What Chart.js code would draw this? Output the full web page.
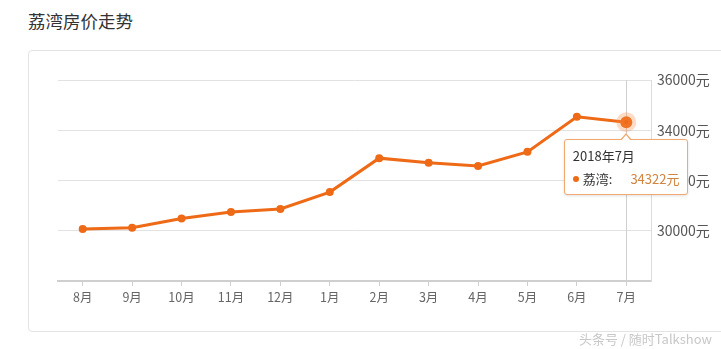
<!DOCTYPE html>
<html>
<head>
<meta charset="utf-8">
<script src="https://cdn.jsdelivr.net/npm/chart.js@4.4.1/dist/chart.umd.min.js"></script>
<style>
body{margin:0;background:#fff;font-family:"Noto Sans CJK SC","Noto Sans",sans-serif;}
#wrap{position:relative;width:721px;height:349px;overflow:hidden;}
#title{position:absolute;left:28px;top:8px;font-size:17.5px;color:#333;}
#box{position:absolute;left:28px;top:50px;width:720px;height:280px;border:1px solid #e4e4e4;border-radius:4px;}
#c{position:absolute;left:0;top:0;}
#tip{position:absolute;display:none;background:#fff;border:1px solid #f2a86e;border-radius:3px;
  box-shadow:0 1px 3px rgba(0,0,0,0.12);padding:6px 8px 6px 8px;font-size:13px;color:#333;white-space:nowrap;}
#tip:before{content:"";position:absolute;left:50%;top:-7px;margin-left:-6px;border-left:6px solid transparent;
  border-right:6px solid transparent;border-bottom:7px solid #f2a86e;}
#tip:after{content:"";position:absolute;left:50%;top:-5px;margin-left:-5px;border-left:5px solid transparent;
  border-right:5px solid transparent;border-bottom:6px solid #fff;}
#tip .t{margin-bottom:4px;}
#tip .dot{display:inline-block;width:6px;height:6px;border-radius:3px;background:#ee6a17;margin-right:4px;vertical-align:2px;}
#tip .v{color:#d2833f;margin-left:18px;}
#mark{position:absolute;right:9px;bottom:1px;font-size:13px;color:#c8c8c8;}
</style>
</head>
<body>
<div id="wrap">
  <div id="title">荔湾房价走势</div>
  <div id="box"></div>
  <canvas id="c" width="721" height="349"></canvas>
  <div id="tip"></div>
  <div id="mark">头条号 / 随时Talkshow</div>
</div>
<script>
// 月份 + 年份（tooltip 用）
var months = ['8月','9月','10月','11月','12月','1月','2月','3月','4月','5月','6月','7月'];
var years  = ['2017','2017','2017','2017','2017','2018','2018','2018','2018','2018','2018','2018'];
var prices = [30070, 30120, 30490, 30745, 30865, 31540, 32890, 32710, 32580, 33140, 34540, 34322];
var seriesName = '荔湾';
var yTicks = [28000, 30000, 32000, 34000, 36000];

var orange = '#ee6a17';

// 竖线（hover 时）
var crossLine = {
  id: 'crossLine',
  beforeDatasetsDraw: function(chart) {
    var act = chart.getActiveElements();
    if (!act.length) return;
    var x = act[0].element.x;
    var ctx = chart.ctx, a = chart.chartArea;
    ctx.save();
    ctx.strokeStyle = '#d0d0d0';
    ctx.lineWidth = 1;
    ctx.beginPath();
    ctx.moveTo(Math.round(x) + 0.5, a.top);
    ctx.lineTo(Math.round(x) + 0.5, a.bottom);
    ctx.stroke();
    ctx.restore();
  }
};

function htmlTip(context) {
  var tip = document.getElementById('tip');
  var t = context.tooltip;
  if (t.opacity === 0 || !t.dataPoints) { tip.style.display = 'none'; return; }
  var p = t.dataPoints[0];
  tip.innerHTML = '<div class="t">' + years[p.dataIndex] + '年' + months[p.dataIndex] + '</div>' +
    '<div><span class="dot"></span>' + seriesName + ':<span class="v">' + prices[p.dataIndex] + '元</span></div>';
  tip.style.display = 'block';
  tip.style.left = (t.caretX - tip.offsetWidth / 2) + 'px';
  tip.style.top = (t.caretY + 17) + 'px';
}

var chart = new Chart(document.getElementById('c'), {
  type: 'line',
  data: {
    labels: months,
    datasets: [{
      label: seriesName,
      data: prices,
      borderColor: orange,
      backgroundColor: orange,
      borderWidth: 3,
      pointRadius: 4,
      pointBorderWidth: 0,
      pointBackgroundColor: orange,
      pointHoverRadius: 6,
      pointHoverBorderWidth: 8,
      pointHoverBorderColor: 'rgba(245,140,70,0.3)',
      pointHoverBackgroundColor: orange,
      tension: 0
    }]
  },
  options: {
    responsive: false,
    animation: false,
    events: [],
    layout: { padding: { left: 58, top: 80, right: 0, bottom: 28 } },
    plugins: {
      legend: { display: false },
      tooltip: { enabled: false, external: htmlTip }
    },
    scales: {
      x: {
        offset: true,
        grid: { drawOnChartArea: false, offset: false, tickLength: 5, color: '#cfcfcf' },
        border: { color: '#cfcfcf', width: 2 },
        ticks: { color: '#666', font: { size: 12.5, family: '"Noto Sans CJK SC"' }, padding: 4, autoSkip: false, maxRotation: 0 },
        afterFit: function(s) { s.height = 40; }
      },
      y: {
        position: 'right',
        min: yTicks[0],
        max: yTicks[yTicks.length - 1],
        afterBuildTicks: function(s) { s.ticks = yTicks.map(function(v){ return {value: v}; }); },
        ticks: {
          color: '#555',
          font: { size: 14, family: '"Noto Sans CJK SC"' },
          padding: 6,
          callback: function(v) { return v === yTicks[0] ? '' : v + '元'; }
        },
        grid: { color: '#e2e2e2', drawTicks: false },
        border: { color: '#dcdcdc' },
        afterFit: function(s) { s.width = 70; }
      }
    }
  },
  plugins: [crossLine]
});

var act = [{ datasetIndex: 0, index: months.length - 1 }];
chart.setActiveElements(act);
chart.tooltip.setActiveElements(act, { x: 0, y: 0 });
chart.update();
</script>
</body>
</html>
